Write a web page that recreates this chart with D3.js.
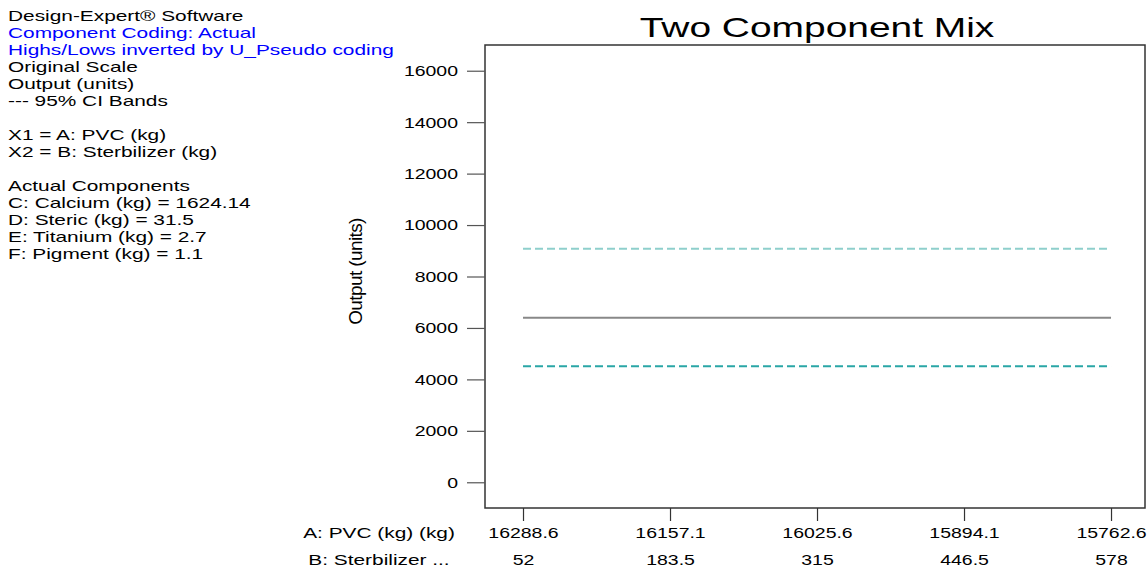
<!DOCTYPE html>
<html>
<head>
<meta charset="utf-8">
<script src="https://cdn.jsdelivr.net/npm/d3@7"></script>
<style>
  html, body { margin: 0; padding: 0; background: #fff; }
  svg { display: block; font-family: "Liberation Sans", Arial, sans-serif; }
</style>
</head>
<body>
<svg id="chart" width="1147" height="569"></svg>
<script>
// ---- data ----
const title = "Two Component Mix";
const yLabel = "Output (units)";
const notesBlack1 = ["Design-Expert\u00AE Software"];
const notesBlue = ["Component Coding: Actual", "Highs/Lows inverted by U_Pseudo coding"];
const notesBlack2 = ["Original Scale", "Output (units)", "--- 95% CI Bands", "",
  "X1 = A: PVC (kg)", "X2 = B: Sterbilizer (kg)", "",
  "Actual Components", "C: Calcium (kg) = 1624.14", "D: Steric (kg) = 31.5",
  "E: Titanium (kg) = 2.7", "F: Pigment (kg) = 1.1"];
const rowLabels = ["A: PVC (kg) (kg)", "B: Sterbilizer ..."];
const sterbilizer = [52, 183.5, 315, 446.5, 578];          // B (kg)
const pvcLabels = ["16288.6", "16157.1", "16025.6", "15894.1", "15762.6"]; // A (kg)
const yTicks = [0, 2000, 4000, 6000, 8000, 10000, 12000, 14000, 16000];
const predicted = [6400, 6400, 6400, 6400, 6400];
const upperCI = [9080, 9080, 9080, 9080, 9080];
const lowerCI = [4510, 4510, 4510, 4510, 4510];

// ---- layout ----
const svg = d3.select("#chart");
const SX = 1.39; // horizontal glyph stretch of the original rendering
const frame = { left: 485, right: 1145, top: 45, bottom: 508 };
const rowY = [538, 565];

const x = d3.scaleLinear().domain([18, 608.4]).range([frame.left, frame.right]);
const y = d3.scaleLinear().domain([-1000, 17000]).range([frame.bottom, frame.top]);

function stretchText(sel, fx, fy) {
  sel.attr("transform", `translate(${fx},${fy}) scale(${SX},1)`);
}

// notes
const allNotes = [
  ...notesBlack1.map(t => ({ t, c: "#000" })),
  ...notesBlue.map(t => ({ t, c: "#0000ff" })),
  ...notesBlack2.map(t => ({ t, c: "#000" }))
];
svg.append("g").selectAll("text").data(allNotes).join("text")
  .attr("font-size", 15)
  .attr("fill", d => d.c)
  .each(function (d, i) { stretchText(d3.select(this), 8, 21 + i * 17); })
  .text(d => d.t);

// title
svg.append("text")
  .attr("font-size", 28)
  .attr("text-anchor", "middle")
  .attr("fill", "#000")
  .attr("transform", `translate(${(frame.left + frame.right) / 2 + 2},37) scale(${SX},1)`)
  .text(title);

// frame
svg.append("rect")
  .attr("x", frame.left).attr("y", frame.top)
  .attr("width", frame.right - frame.left).attr("height", frame.bottom - frame.top)
  .attr("fill", "none").attr("stroke", "#333").attr("stroke-width", 1.5);

// y axis
const yAxis = svg.append("g")
  .attr("transform", `translate(${frame.left},0)`)
  .call(d3.axisLeft(y).tickValues(yTicks).tickSize(18).tickPadding(8).tickFormat(d3.format("d")));
yAxis.select(".domain").remove();
yAxis.selectAll(".tick line").attr("stroke", "#555").attr("stroke-width", 1.2);
yAxis.selectAll(".tick text")
  .attr("font-size", 14).attr("font-family", "Liberation Sans, Arial, sans-serif")
  .attr("fill", "#000")
  .attr("x", null).attr("dy", "0.35em")
  .attr("transform", `translate(-27,0) scale(${SX},1)`);

// x axis (row B: sterbilizer)
const xAxis = svg.append("g")
  .attr("transform", `translate(0,${frame.bottom})`)
  .call(d3.axisBottom(x).tickValues(sterbilizer).tickSize(13).tickPadding(0).tickFormat(d3.format("")));
xAxis.select(".domain").remove();
xAxis.selectAll(".tick line").attr("stroke", "#333").attr("stroke-width", 1.2);
xAxis.selectAll(".tick text")
  .attr("font-size", 14).attr("font-family", "Liberation Sans, Arial, sans-serif")
  .attr("fill", "#000")
  .attr("y", null).attr("dy", null)
  .attr("transform", `translate(0,${rowY[1] - frame.bottom}) scale(${SX},1)`);

// row A: PVC labels under the same tick positions
const xAxisA = svg.append("g")
  .attr("transform", `translate(0,${frame.bottom})`)
  .call(d3.axisBottom(x).tickValues(sterbilizer).tickSize(0)
    .tickFormat((d, i) => pvcLabels[i]));
xAxisA.select(".domain").remove();
xAxisA.selectAll(".tick line").remove();
xAxisA.selectAll(".tick text")
  .attr("font-size", 14).attr("font-family", "Liberation Sans, Arial, sans-serif")
  .attr("fill", "#000")
  .attr("y", null).attr("dy", null)
  .attr("transform", `translate(0,${rowY[0] - frame.bottom}) scale(${SX},1)`);

// row labels
svg.append("g").selectAll("text").data(rowLabels).join("text")
  .attr("font-size", 15).attr("text-anchor", "middle").attr("fill", "#000")
  .each(function (d, i) { stretchText(d3.select(this), 379, rowY[i]); })
  .text(d => d);

// y label
svg.append("text")
  .attr("font-size", 19).attr("text-anchor", "middle").attr("fill", "#000")
  .attr("letter-spacing", -0.6)
  .attr("transform", `translate(362,${(frame.top + frame.bottom) / 2 - 5}) rotate(-90)`)
  .text(yLabel);

// lines
const line = d3.line().x((d, i) => x(sterbilizer[i])).y(d => y(d));
svg.append("path").datum(upperCI)
  .attr("d", line).attr("fill", "none")
  .attr("stroke", "#8ecfcc").attr("stroke-width", 2).attr("stroke-dasharray", "8,4");
svg.append("path").datum(lowerCI)
  .attr("d", line).attr("fill", "none")
  .attr("stroke", "#2aa6a6").attr("stroke-width", 1.8).attr("stroke-dasharray", "8,4");
svg.append("path").datum(predicted)
  .attr("d", line).attr("fill", "none")
  .attr("stroke", "#888").attr("stroke-width", 2);
</script>
</body>
</html>
